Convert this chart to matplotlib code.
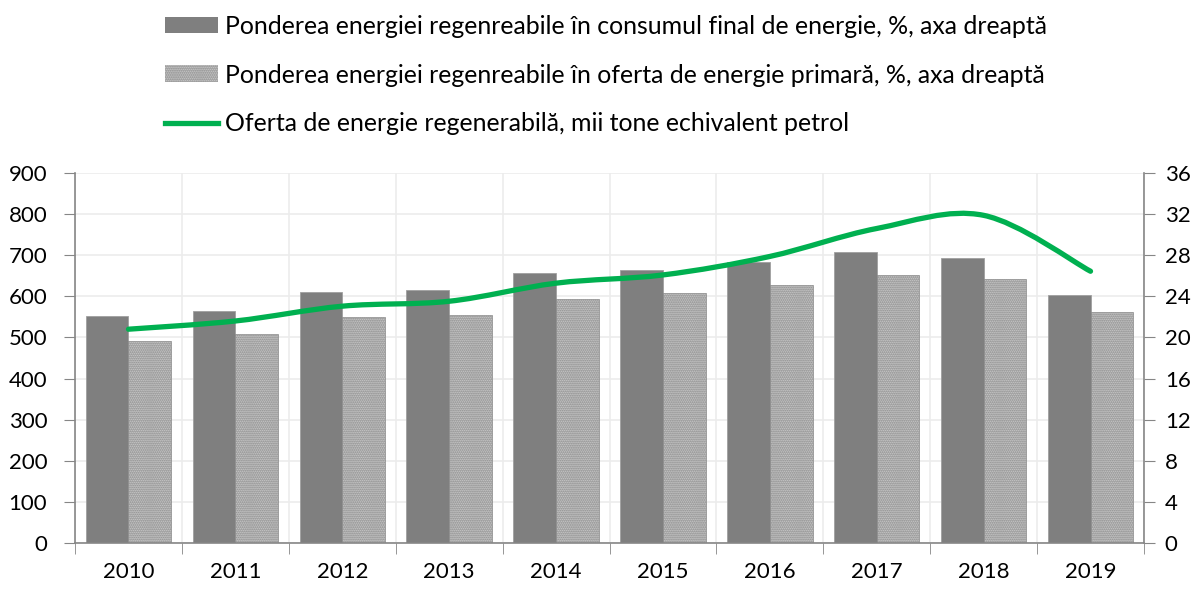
import matplotlib.pyplot as plt
import numpy as np
from matplotlib.path import Path
from matplotlib.patches import PathPatch, Patch
from matplotlib.lines import Line2D

years = ['2010', '2011', '2012', '2013', '2014', '2015', '2016', '2017', '2018', '2019']
share_final = [22.1, 22.6, 24.4, 24.6, 26.3, 26.6, 27.3, 28.3, 27.7, 24.1]
share_primary = [19.7, 20.3, 22.0, 22.2, 23.7, 24.3, 25.1, 26.1, 25.7, 22.5]
supply_ktoe = [520, 540, 576, 588, 632, 652, 697, 765, 797, 661]

lbl_final = 'Ponderea energiei regenreabile în consumul final de energie, %, axa dreaptă'
lbl_primary = 'Ponderea energiei regenreabile în oferta de energie primară, %, axa dreaptă'
lbl_supply = 'Oferta de energie regenerabilă, mii tone echivalent petrol'

plt.rcParams['font.family'] = ['Lato', 'DejaVu Sans']
plt.rcParams['hatch.linewidth'] = 1.0

dark = '#7f7f7f'
green = '#00b050'
axis_col = '#868686'
grid_col = '#ececec'
light_face = '#d6d6d6'
light_hatch = '#7a7a7a'
hatch = '........'

fig = plt.figure(figsize=(11.95, 5.90), dpi=100)
ax = fig.add_axes([0.0628, 0.0797, 0.8945, 0.6271])
ax2 = ax.twinx()
x = np.arange(len(years))

# bars on the right axis (percent)
ax.bar(x - 0.2, share_final, width=0.4, color=dark, edgecolor='#a0a0a0', linewidth=0.6, zorder=2)
ax.bar(x + 0.2, share_primary, width=0.4, color=light_face, edgecolor=light_hatch,
       hatch=hatch, linewidth=0.4, zorder=2)
ax.set_ylim(0, 36)
ax.set_yticks(range(0, 37, 4))
ax.yaxis.tick_right()
ax.set_xlim(-0.5, len(years) - 0.5)
ax.set_xticks(x)
ax.set_xticklabels(years)
ax.set_xticks(np.arange(-0.5, len(years)), minor=True)
ax.tick_params(axis='x', which='major', length=0, pad=14)
ax.tick_params(axis='x', which='minor', length=8, color=axis_col, direction='out')
ax.tick_params(axis='y', length=8, color=axis_col, pad=7)
ax.tick_params(labelsize=16)
ax.grid(axis='y', color=grid_col, linewidth=1.2, zorder=0)
ax.grid(axis='x', which='minor', color=grid_col, linewidth=1.2, zorder=0)
ax.set_axisbelow(True)
ax.spines['top'].set_visible(False)
for s in ['left', 'right', 'bottom']:
    ax.spines[s].set_color(axis_col)
    ax.spines[s].set_linewidth(1.2)

# line on the left axis, smoothed like Excel (Bezier through the points)
ax2.yaxis.tick_left()
ax2.set_ylim(0, 900)
ax2.set_yticks(range(0, 901, 100))
ax2.tick_params(axis='y', length=8, color=axis_col, pad=12, labelsize=16)
for s in ax2.spines.values():
    s.set_visible(False)

pts = np.column_stack([x, supply_ktoe]).astype(float)
verts = [pts[0]]
codes = [Path.MOVETO]
n = len(pts)
for i in range(n - 1):
    p0 = pts[max(i - 1, 0)]
    p1 = pts[i]
    p2 = pts[i + 1]
    p3 = pts[min(i + 2, n - 1)]
    verts += [p1 + (p2 - p0) / 6, p2 - (p3 - p1) / 6, p2]
    codes += [Path.CURVE4] * 3
ax2.add_patch(PathPatch(Path(verts, codes), facecolor='none', edgecolor=green,
                        linewidth=3.8, capstyle='round', joinstyle='round', zorder=3))

handles = [Patch(facecolor=dark, edgecolor='none'),
           Patch(facecolor=light_face, edgecolor=light_hatch, hatch=hatch, linewidth=0),
           Line2D([], [], color=green, linewidth=3.8)]
fig.legend(handles, [lbl_final, lbl_primary, lbl_supply], loc='upper left',
           bbox_to_anchor=(0.1297, 0.992), frameon=False, fontsize=17.9,
           handlelength=2.15, handleheight=0.65, handletextpad=0.25, labelspacing=1.04,
           borderaxespad=0)

fig.savefig('out.png', dpi=100)
